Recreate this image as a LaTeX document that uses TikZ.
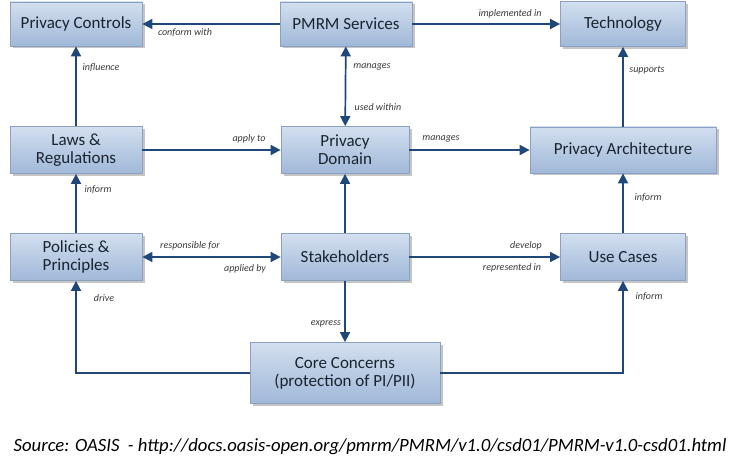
\documentclass[tikz,border=0pt]{standalone}
\usepackage{fontspec}
\setmainfont{Carlito}
\usetikzlibrary{arrows.meta,shadows}
\definecolor{boxtop}{HTML}{D2DFEF}
\definecolor{boxbot}{HTML}{A0B8D8}
\definecolor{boxline}{HTML}{8AA1C3}
\definecolor{arr}{HTML}{1F477A}
\definecolor{txt}{HTML}{1A2430}
\definecolor{lbl}{HTML}{3A3A3A}
\begin{document}
\begin{tikzpicture}[x=1pt,y=-1pt,
 box/.style={draw=boxline, line width=0.8pt, top color=boxtop, bottom color=boxbot, text=txt,
   font=\fontsize{17}{18}\selectfont, align=center, inner sep=0pt,
   drop shadow={shadow xshift=2.5pt, shadow yshift=-2.5pt, fill=black!45, opacity=0.5}},
 conn/.style={draw=arr, line width=1.7pt, -{Triangle[length=10pt,width=10pt]}},
 both/.style={draw=arr, line width=1.7pt, {Triangle[length=10pt,width=10pt]}-{Triangle[length=10pt,width=10pt]}},
 lab/.style={font=\itshape\fontsize{10}{11}\selectfont, text=lbl, inner sep=1pt}
]
\fill[white] (0,0) rectangle (743,470);
\useasboundingbox (0,0) rectangle (743,470);

\node[box, minimum width=132pt, minimum height=44pt] (pc) at (76,24) {Privacy Controls};
\node[box, minimum width=132pt, minimum height=44pt] (pmrm) at (346,24) {PMRM Services};
\node[box, minimum width=125pt, minimum height=45pt] (tech) at (623,24) {Technology};
\node[box, minimum width=132pt, minimum height=47pt] (laws) at (76,150) {Laws \&\\Regulations};
\node[box, minimum width=128pt, minimum height=47pt] (dom) at (345,150) {Privacy\\Domain};
\node[box, minimum width=186pt, minimum height=46pt] (arch) at (623,150) {Privacy Architecture};
\node[box, minimum width=132pt, minimum height=47pt] (pol) at (76,257) {Policies \&\\Principles};
\node[box, minimum width=128pt, minimum height=47pt] (stk) at (345,257) {Stakeholders};
\node[box, minimum width=125pt, minimum height=47pt] (uc) at (623,257) {Use Cases};
\node[box, minimum width=190pt, minimum height=61pt] (core) at (345,373) {Core Concerns\\(protection of PI/PII)};

\draw[conn] (pmrm) -- (pc);
\draw[conn] (pmrm) -- (tech);
\draw[both] (pmrm) -- (dom);
\draw[conn] (laws) -- (pc);
\draw[conn] (laws) -- (dom);
\draw[conn] (dom) -- (arch);
\draw[conn] (arch) -- (tech);
\draw[conn] (pol) -- (laws);
\draw[both] (pol) -- (stk);
\draw[conn] (stk) -- (dom);
\draw[conn] (stk) -- (uc);
\draw[conn] (uc) -- (arch);
\draw[conn] (stk) -- (core);
\draw[conn] (core.west) -| (pol.south);
\draw[conn] (core.east) -| (uc.south);

\node[lab] (l1) at (185,33) {conform with};
\node[lab] (l2) at (510,14) {implemented in};
\node[lab] (l3) at (372,67) {manages};
\node[lab] (l4) at (378,107) {used within};
\node[lab] (l5) at (101,68) {influence};
\node[lab] (l6) at (249,139) {apply to};
\node[lab] (l7) at (441,139) {manages};
\node[lab] (l8) at (647,70) {supports};
\node[lab] (l9) at (98,190) {inform};
\node[lab] (l10) at (190,246) {responsible for};
\node[lab] (l11) at (245,269) {applied by};
\node[lab] (l12) at (526,246) {develop};
\node[lab] (l13) at (512,268) {represented in};
\node[lab] (l14) at (648,198) {inform};
\node[lab] (l15) at (326,324) {express};
\node[lab] (l16) at (104,298) {drive};
\node[lab] (l17) at (649,297) {inform};

\node[font=\itshape\fontsize{18.7}{20}\selectfont, inner sep=0pt] (src) at (370,447) {Source: OASIS\ \ - http://docs.oasis-open.org/pmrm/PMRM/v1.0/csd01/PMRM-v1.0-csd01.html};
\end{tikzpicture}
\end{document}
